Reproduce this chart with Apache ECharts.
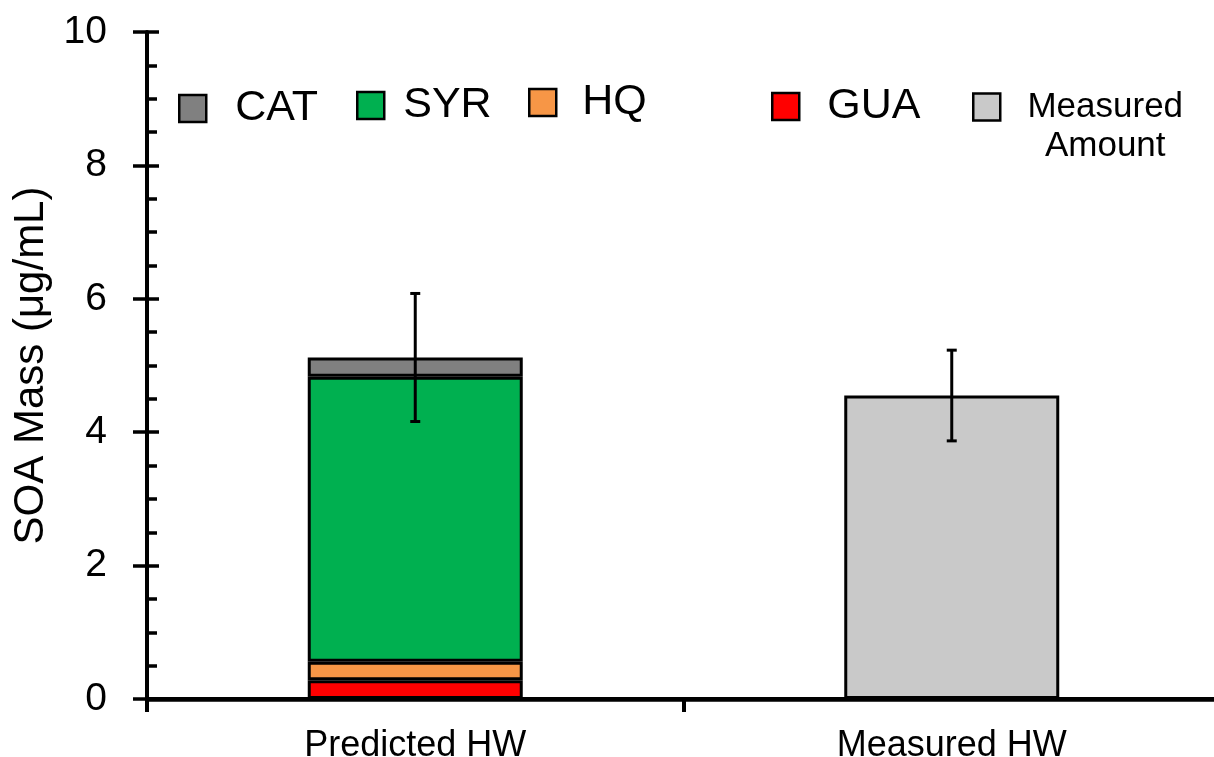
<!DOCTYPE html>
<html>
<head>
<meta charset="utf-8">
<script src="https://cdn.jsdelivr.net/npm/echarts@6/dist/echarts.min.js"></script>
<style>
  html, body { margin: 0; padding: 0; background: #fff; }
  #chart { width: 1214px; height: 757px; }
</style>
</head>
<body>
<div id="chart"></div>
<script>
// Categories and stacked SOA contributions (µg/mL)
const categories = ['Predicted HW', 'Measured HW'];
const guaValues = [0.28, null];
const hqValues = [0.28, null];
const syrValues = [4.27, null];
const catValues = [0.29, null];
const measuredValues = [null, 4.55];
// Symmetric uncertainty on each bar total
const errorValues = [0.96, 0.68];
// Value-axis range and tick step
const yMin = 0;
const yMax = 10;
const yStep = 2;

const FONT = '"Liberation Sans", Arial, sans-serif';
const GRID_LEFT = 147;
const GRID_WIDTH = 1073;

const totals = categories.map((_, i) =>
  [guaValues, hqValues, syrValues, catValues, measuredValues]
    .reduce((s, arr) => s + (arr[i] || 0), 0));
const errorData = categories.map((_, i) => [i, totals[i] - errorValues[i], totals[i] + errorValues[i]]);

const barBase = {
  type: 'bar',
  stack: 'soa',
  barWidth: 215,
  xAxisIndex: 0,
  yAxisIndex: 0,
  emphasis: { disabled: true }
};

function legendItem(name, left, top, fontSize, padding, extra) {
  return Object.assign({
    data: [name],
    left: left,
    top: top,
    padding: 0,
    itemWidth: 27,
    itemHeight: 27,
    icon: 'rect',
    selectedMode: false,
    itemStyle: { borderColor: '#000', borderWidth: 2.5 },
    textStyle: { fontSize: fontSize, color: '#000', fontFamily: FONT, padding: padding }
  }, extra || {});
}

const chart = echarts.init(document.getElementById('chart'), null, { renderer: 'canvas' });

chart.setOption({
  animation: false,
  backgroundColor: '#fff',
  grid: {
    left: GRID_LEFT, top: 32, width: GRID_WIDTH, height: 667,
    containLabel: false, outerBoundsMode: 'none'
  },
  legend: [
    legendItem('CAT', 178, 87, 43, [0, 0, 0, 24]),
    legendItem('SYR', 356, 84, 43, [0, 0, 0, 14]),
    legendItem('HQ', 528, 81, 43, [0, 0, 0, 21]),
    legendItem('GUA', 771, 85, 43, [0, 0, 0, 23]),
    legendItem('Measured Amount', 972, 90, 35, [40, 0, 0, 19], {
      formatter: () => '{m|Measured}\n{m|Amount}',
      textStyle: {
        fontSize: 35, color: '#000', fontFamily: FONT, padding: [40, 0, 0, 19],
        rich: { m: { fontSize: 35, fontFamily: FONT, color: '#000', width: 162, align: 'center', lineHeight: 39 } }
      }
    })
  ],
  xAxis: [
    {
      type: 'category',
      data: categories,
      position: 'bottom',
      axisLine: { show: true, lineStyle: { color: '#000', width: 4.5 } },
      axisTick: { show: true, inside: false, length: 13, lineStyle: { color: '#000', width: 4 } },
      axisLabel: { fontSize: 36, color: '#000', fontFamily: FONT, margin: 29 },
      splitLine: { show: false }
    },
    {
      type: 'category',
      data: categories,
      position: 'top',
      axisLine: { show: true, lineStyle: { color: '#000', width: 4 } },
      axisTick: { show: false },
      axisLabel: { show: false },
      splitLine: { show: false }
    }
  ],
  yAxis: [
    {
      type: 'value',
      position: 'left',
      min: yMin, max: yMax, interval: yStep,
      name: 'SOA Mass (μg/mL)',
      nameLocation: 'middle',
      nameRotate: 90,
      nameGap: 95,
      nameTextStyle: { fontSize: 42, color: '#000', fontFamily: FONT },
      axisLine: { show: true, lineStyle: { color: '#000', width: 4 } },
      axisTick: { show: true, inside: false, length: 14, lineStyle: { color: '#000', width: 3.5 } },
      axisLabel: { fontSize: 39, color: '#000', fontFamily: FONT, margin: 40 },
      splitLine: { show: false }
    },
    {
      // inward half of the ticks, drawn on the same vertical line as the left axis
      type: 'value',
      position: 'right',
      offset: -GRID_WIDTH,
      min: yMin, max: yMax, interval: yStep,
      axisLine: { show: false },
      axisTick: { show: true, inside: false, length: 12, lineStyle: { color: '#000', width: 3.5 } },
      minorTick: { show: true, splitNumber: 4, length: 10, lineStyle: { color: '#000', width: 3.5 } },
      axisLabel: { show: false },
      splitLine: { show: false }
    }
  ],
  series: [
    Object.assign({}, barBase, { name: 'GUA', data: guaValues, itemStyle: { color: '#FF0000', borderColor: '#000', borderWidth: 3 } }),
    Object.assign({}, barBase, { name: 'HQ', data: hqValues, itemStyle: { color: '#F79646', borderColor: '#000', borderWidth: 3 } }),
    Object.assign({}, barBase, { name: 'SYR', data: syrValues, itemStyle: { color: '#00B050', borderColor: '#000', borderWidth: 3 } }),
    Object.assign({}, barBase, { name: 'CAT', data: catValues, itemStyle: { color: '#808080', borderColor: '#000', borderWidth: 3 } }),
    Object.assign({}, barBase, { name: 'Measured Amount', data: measuredValues, itemStyle: { color: '#C9C9C9', borderColor: '#000', borderWidth: 3 } }),
    {
      type: 'custom',
      name: 'error',
      xAxisIndex: 0,
      yAxisIndex: 0,
      z: 10,
      silent: true,
      data: errorData,
      encode: { x: 0, y: [1, 2] },
      renderItem: function (params, api) {
        const xi = api.value(0);
        const lo = api.coord([xi, api.value(1)]);
        const hi = api.coord([xi, api.value(2)]);
        const cap = 5;
        const st = { stroke: '#000', lineWidth: 3 };
        return {
          type: 'group',
          children: [
            { type: 'line', shape: { x1: lo[0], y1: lo[1], x2: hi[0], y2: hi[1] }, style: st },
            { type: 'line', shape: { x1: hi[0] - cap, y1: hi[1], x2: hi[0] + cap, y2: hi[1] }, style: st },
            { type: 'line', shape: { x1: lo[0] - cap, y1: lo[1], x2: lo[0] + cap, y2: lo[1] }, style: st }
          ]
        };
      }
    }
  ]
});
</script>
</body>
</html>
